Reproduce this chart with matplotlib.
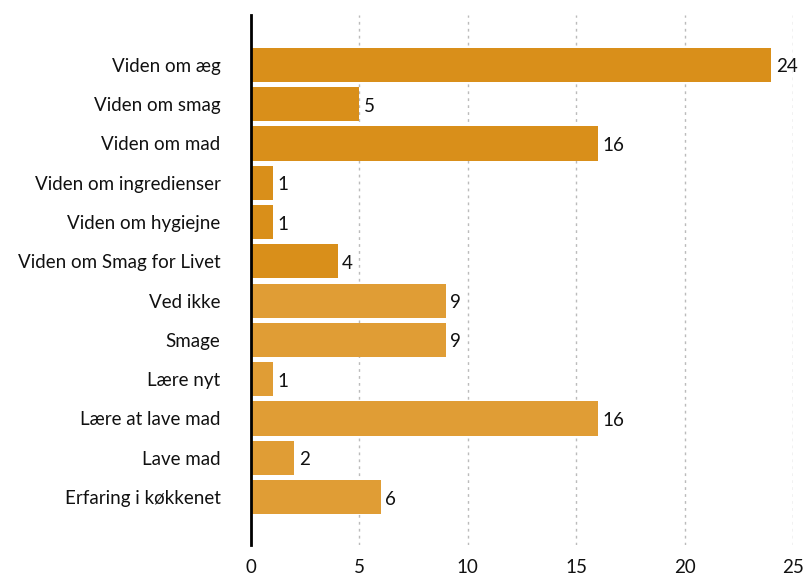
import matplotlib
matplotlib.use("Agg")
import matplotlib.pyplot as plt
import numpy as np

plt.rcParams["font.family"] = ["Lato", "DejaVu Sans"]

categories = [
    "Viden om æg", "Viden om smag", "Viden om mad", "Viden om ingredienser",
    "Viden om hygiejne", "Viden om Smag for Livet", "Ved ikke", "Smage",
    "Lære nyt", "Lære at lave mad", "Lave mad", "Erfaring i køkkenet",
]
values = [24, 5, 16, 1, 1, 4, 9, 9, 1, 16, 2, 6]
groups = ["viden"] * 6 + ["andet"] * 6
colors = {"viden": "#D98F1A", "andet": "#E09D35"}
xticks = [0, 5, 10, 15, 20, 25]

fig = plt.figure(figsize=(8.07, 5.77), dpi=100)
ax = fig.add_axes([251 / 807, 32 / 577, 542 / 807, 530 / 577])

y = np.arange(len(categories))
bars = ax.barh(y, values, height=0.87, color=[colors[g] for g in groups], zorder=2)

for bar, v in zip(bars, values):
    ax.text(bar.get_width() + 0.2, bar.get_y() + bar.get_height() / 2 + 0.05, str(v),
            ha="left", va="center", fontsize=13.5, color="#111111")

ax.set_xlim(0, 25)
ax.set_ylim(12.22, -1.27)
ax.set_yticks(y)
ax.set_yticklabels(categories, fontsize=13.5, color="#111111")
ax.set_xticks(xticks)
ax.set_xticklabels([str(t) for t in xticks], fontsize=13.5, color="#111111")
ax.tick_params(axis="y", length=0, pad=22)
ax.tick_params(axis="x", length=0, pad=10)

for t in xticks[1:]:
    ax.axvline(t, color="#BBBBBB", linestyle=(0, (2, 3)), linewidth=1, zorder=1)

for s in ["top", "right", "bottom"]:
    ax.spines[s].set_visible(False)
ax.spines["left"].set_linewidth(2)
ax.spines["left"].set_color("#000000")
ax.spines["left"].set_zorder(3)

fig.savefig("out.png", dpi=100)
